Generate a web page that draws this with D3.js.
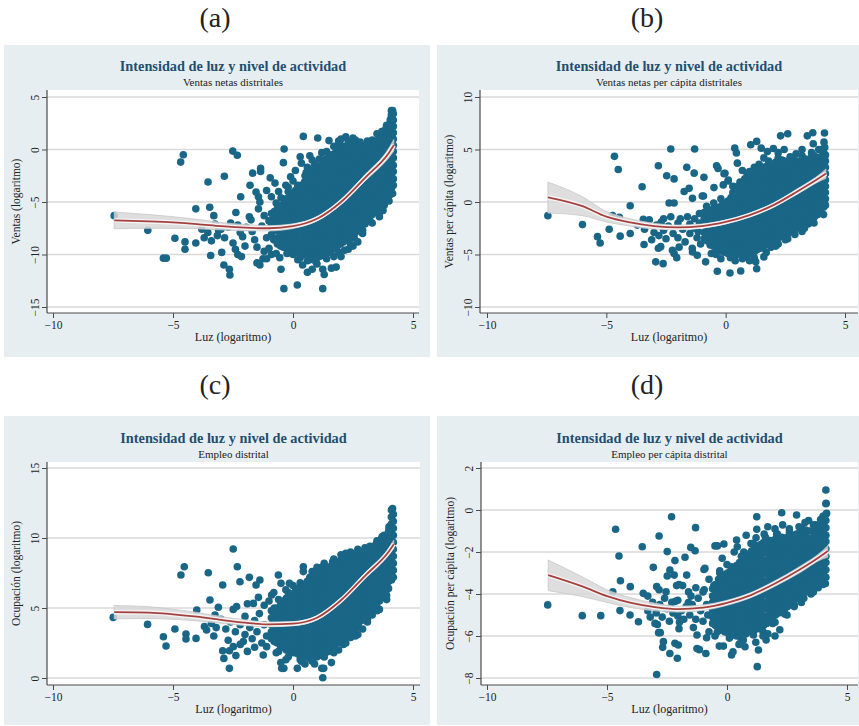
<!DOCTYPE html>
<html>
<head>
<meta charset="utf-8">
<script src="https://cdn.jsdelivr.net/npm/d3@7/dist/d3.min.js"></script>
<style>
  body { margin: 0; background: #fff; }
  svg { display: block; font-family: "Liberation Serif", "DejaVu Serif", serif; }
</style>
</head>
<body>
<div id="grafico"></div>
<script>
// x común de las curvas ajustadas (luz, logaritmo)
const curvaX = [-7.45, -6, -5, -4, -3, -2, -1, 0, 1, 2, 3, 4, 4.2];

// (a) Ventas netas distritales
const ajusteA = [-6.75, -6.85, -6.95, -7.1, -7.3, -7.45, -7.5, -7.3, -6.6, -5.0, -2.7, -0.3, 0.4];
const infA = [-7.55, -7.5, -7.5, -7.55, -7.65, -7.75, -7.75, -7.52, -6.8, -5.22, -3.0, -0.75, -0.15];
const supA = [-5.95, -6.2, -6.4, -6.65, -6.95, -7.15, -7.25, -7.08, -6.4, -4.78, -2.4, 0.15, 0.95];
const puntosA = [
  [-7.45,-6.3],[-6.05,-7.7],[-5.4,-10.35],[-5.28,-10.35],[-4.92,-8.45],[-4.5,-8.8],[-4.5,-9.5],[-4.05,-8.9],
  [-4.05,-5.65],[-3.47,-5.5],[-3.3,-6.3],[-4.57,-0.5],[-4.68,-1.2],[-3.54,-3.1],[-2.86,-2.55],[-2.51,-0.15],
  [-2.32,-0.55],[-2.18,-4.5],[-1.79,-3.4],[-1.68,-2.25],[-1.35,-1.8],[-1.35,-2.1],[-1.54,-4.05],[-1.44,-4.5],
  [-1.38,-5.0],[-1.44,-5.65],[-2.38,-6.0],[-1.82,-6.4],[-3.8,-7.6],[-3.7,-8.4],[-3.55,-7.9],[-3.4,-8.7],
  [-3.43,-10.1],[-3.25,-7.1],[-3.15,-8.2],[-3.0,-7.6],[-2.97,-9.8],[-2.88,-11.0],[-2.65,-11.4],[-2.63,-11.95],
  [-2.85,-8.4],[-2.6,-7.0],[-2.5,-8.9],[-2.4,-9.5],[-2.3,-10.0],[-2.15,-10.2],[-2.1,-8.3],[-2.0,-9.2],
  [-1.95,-7.4],[-1.75,-6.7],[-1.7,-7.8],[-1.6,-8.6],[-1.5,-9.3],[-1.5,-10.8],[-1.38,-11.0],[-1.25,-10.4],
  [-1.2,-9.7],[-1.1,-8.4],[-1.1,-10.4],[-1.0,-9.4],[-0.9,-10.0],[-0.7,-9.9],[-0.55,-10.3],[-0.5,-11.4],
  [-0.38,-13.25],[0.18,-12.9],[1.24,-13.25],[0.6,-11.7],[0.8,-11.4],[1.24,-11.4],[1.3,-11.9],[1.6,-11.3],
  [1.8,-11.2],[0.4,-11.0],[0.2,-10.5],[1.0,-10.9],[2.0,-10.2],[2.3,-9.5],[2.7,-8.8],[2.7,-7.4],
  [3.0,-7.1],[3.45,-6.0],[3.7,-5.5],[3.6,-6.1],[3.2,-6.8],[2.5,-9.2],[-3.1,-7.7],[-2.7,-7.4],
  [-2.3,-7.2],[-2.2,-7.9],[-1.3,-7.3],[-1.2,-6.3],[-0.37,0.05],[-0.4,-1.25],[0.43,1.25],[1.03,1.1],
  [1.5,0.85],[0.3,-0.7],[0.35,-1.3],[0.55,-2.2],[0.1,-2.0],[-0.1,-2.6],[-0.3,-3.4],[-0.6,-4.0],
  [-0.9,-4.5],[-0.75,-3.2],[-0.2,-4.0],[0.7,-0.6],[0.9,-1.4],[1.2,-0.3],[1.9,0.8],[2.0,1.0],
  [2.3,0.8],[2.5,1.1],[2.6,0.9],[2.2,1.2],[3.1,0.8],[3.5,1.5],[3.7,1.7],[3.55,0.9],
  [3.9,2.3],[4.05,2.8],[4.1,3.3],[4.15,3.7],[-1.1,-3.9],[-0.95,-2.7],[3.8,-5.3],[4.0,-4.4],
  [3.95,-3.6],[3.3,-6.2],[2.9,-7.7],[2.55,-8.4],[2.15,-9.6],[1.7,-10.2],[0.95,-10.7],[0.6,-10.6],
  [0.0,-10.0],[-0.25,-9.9],[0.2,-3.4],[0.5,-2.5],[0.8,-1.0],[1.1,-0.9],[1.4,-0.2],[0.6,-1.7],
  [0.0,-3.0],[-0.5,-4.6],[-0.2,-3.6],[0.3,-10.3],[0.7,-10.5],[1.4,-10.4],[1.9,-9.8],[2.4,-9.0],
  [2.9,-8.0],[3.3,-7.0],[3.6,-6.4],[4.0,-4.9],[4.15,-4.2],[3.75,-5.8],[3.5,-5.6],[-0.7,-5.1],
  [-1.0,-6.8],[-0.8,-8.6],[2.8,0.7],[3.3,0.9],[1.7,0.3]
];
// nube densa: [luz, [valores...]]
const nubeA = [
  [-0.9, [-8.1,-7.3,-6.8,-6.1]],
  [-0.78, [-8.6,-7.7,-7.1,-6.4,-5.9]],
  [-0.65, [-9.0,-8.4,-7.7,-7.0,-6.4,-5.6]],
  [-0.52, [-9.2,-8.7,-8.0,-7.4,-6.7,-6.1,-5.4]],
  [-0.4, [-9.3,-8.6,-7.9,-7.3,-6.5,-6.0,-5.2]],
  [-0.28, [-9.4,-8.9,-8.2,-7.6,-6.9,-6.3,-5.6,-5.0,-4.7]],
  [-0.15, [-9.5,-8.8,-8.1,-7.5,-6.9,-6.2,-5.5,-4.9,-4.4]],
  [-0.02, [-9.6,-9.1,-8.5,-7.8,-7.2,-6.5,-5.9,-5.2,-4.6,-4.2]],
  [0.1, [-9.7,-9.0,-8.4,-7.7,-7.0,-6.4,-5.8,-5.1,-4.5,-3.9]],
  [0.22, [-9.8,-9.3,-8.7,-8.0,-7.4,-6.7,-6.1,-5.4,-4.8,-4.2,-3.7]],
  [0.35, [-9.9,-9.2,-8.6,-7.9,-7.3,-6.6,-6.0,-5.3,-4.6,-4.0,-3.4]],
  [0.48, [-10.0,-9.5,-8.9,-8.2,-7.6,-6.9,-6.3,-5.6,-5.0,-4.3,-3.7,-3.1]],
  [0.6, [-10.1,-9.4,-8.8,-8.1,-7.4,-6.8,-6.2,-5.5,-4.9,-4.2,-3.6,-2.9]],
  [0.72, [-10.2,-9.7,-9.1,-8.4,-7.8,-7.1,-6.5,-5.8,-5.2,-4.5,-3.9,-3.3,-2.7,-2.2]],
  [0.85, [-10.3,-9.6,-8.9,-8.3,-7.6,-7.0,-6.3,-5.7,-5.0,-4.4,-3.7,-3.1,-2.4,-1.9]],
  [0.98, [-10.3,-9.8,-9.2,-8.5,-7.9,-7.2,-6.6,-5.9,-5.3,-4.6,-4.0,-3.4,-2.7,-2.1,-1.8]],
  [1.1, [-10.2,-9.5,-8.9,-8.2,-7.6,-6.9,-6.3,-5.6,-5.0,-4.3,-3.7,-3.0,-2.4,-1.6]],
  [1.22, [-10.1,-9.6,-9.0,-8.3,-7.7,-7.0,-6.4,-5.7,-5.1,-4.4,-3.8,-3.2,-2.5,-1.9,-1.3]],
  [1.35, [-10.0,-9.3,-8.7,-8.0,-7.4,-6.7,-6.1,-5.4,-4.8,-4.1,-3.5,-2.8,-2.2,-1.5,-0.9]],
  [1.48, [-9.8,-9.3,-8.6,-8.0,-7.3,-6.7,-6.0,-5.4,-4.7,-4.1,-3.4,-2.8,-2.1,-1.5,-0.8]],
  [1.6, [-9.6,-9.0,-8.3,-7.7,-7.0,-6.4,-5.7,-5.1,-4.4,-3.8,-3.1,-2.5,-1.8,-1.2,-0.5]],
  [1.72, [-9.4,-8.9,-8.2,-7.6,-6.9,-6.3,-5.6,-5.0,-4.3,-3.7,-3.0,-2.4,-1.7,-1.1,-0.4]],
  [1.85, [-9.2,-8.6,-7.9,-7.3,-6.6,-6.0,-5.3,-4.7,-4.0,-3.4,-2.7,-2.1,-1.4,-0.8,-0.1]],
  [1.98, [-9.0,-8.5,-7.8,-7.2,-6.5,-5.9,-5.2,-4.6,-3.9,-3.3,-2.6,-2.0,-1.3,-0.7,-0.1,0.4]],
  [2.1, [-8.8,-8.2,-7.5,-6.9,-6.2,-5.6,-4.9,-4.3,-3.6,-3.0,-2.3,-1.7,-1.0,-0.4,0.3]],
  [2.22, [-8.6,-8.1,-7.4,-6.8,-6.1,-5.5,-4.8,-4.2,-3.5,-2.9,-2.2,-1.6,-0.9,-0.3,0.3]],
  [2.35, [-8.4,-7.8,-7.1,-6.5,-5.8,-5.2,-4.5,-3.9,-3.2,-2.6,-1.9,-1.3,-0.6,0.0,0.6]],
  [2.48, [-8.1,-7.6,-6.9,-6.3,-5.6,-5.0,-4.3,-3.7,-3.0,-2.4,-1.7,-1.1,-0.5,0.1,0.5]],
  [2.6, [-7.9,-7.3,-6.6,-6.0,-5.3,-4.7,-4.0,-3.4,-2.7,-2.1,-1.4,-0.8,-0.2,0.4]],
  [2.72, [-7.6,-7.0,-6.3,-5.7,-5.0,-4.4,-3.7,-3.1,-2.4,-1.8,-1.1,-0.5,0.1]],
  [2.85, [-7.3,-6.7,-6.0,-5.4,-4.7,-4.1,-3.4,-2.8,-2.1,-1.5,-0.8,-0.2,0.3]],
  [2.98, [-7.0,-6.3,-5.7,-5.0,-4.4,-3.7,-3.1,-2.4,-1.8,-1.1,-0.5,0.0]],
  [3.1, [-6.6,-6.0,-5.3,-4.7,-4.0,-3.4,-2.7,-2.1,-1.4,-0.8,-0.2,0.4]],
  [3.22, [-6.3,-5.7,-5.0,-4.4,-3.7,-3.1,-2.4,-1.8,-1.1,-0.5,0.1]],
  [3.35, [-6.0,-5.4,-4.7,-4.1,-3.4,-2.8,-2.1,-1.5,-0.8,-0.2,0.5]],
  [3.48, [-5.8,-5.1,-4.5,-3.8,-3.2,-2.5,-1.9,-1.2,-0.6,0.1,0.7]],
  [3.6, [-5.5,-4.8,-4.2,-3.5,-2.9,-2.2,-1.6,-0.9,-0.3,0.3,0.9]],
  [3.72, [-5.2,-4.6,-3.9,-3.3,-2.6,-2.0,-1.3,-0.7,0.0,0.6,1.2]],
  [3.85, [-4.9,-4.3,-3.6,-3.0,-2.3,-1.7,-1.0,-0.4,0.2,0.8,1.4,1.9]],
  [3.98, [-4.4,-3.9,-3.3,-2.6,-2.0,-1.4,-0.7,-0.1,0.5,1.1,1.7,2.3]],
  [4.1, [-3.7,-3.1,-2.4,-1.8,-1.1,-0.5,0.1,0.7,1.3,1.9,2.5,3.1,3.7]],
  [4.18, [-3.4,-2.8,-2.1,-1.5,-0.8,-0.2,0.4,1.0,1.6,2.2,2.8,3.4]]
];

// (b) Ventas netas per cápita distritales
const ajusteB = [0.45, -0.4, -1.4, -1.95, -2.3, -2.42, -2.3, -1.9, -1.25, -0.3, 1.0, 2.4, 2.7];
const infB = [-1.05, -1.3, -1.9, -2.3, -2.57, -2.64, -2.5, -2.08, -1.43, -0.5, 0.75, 2.05, 2.25];
const supB = [1.9, 0.5, -0.9, -1.6, -2.03, -2.2, -2.1, -1.72, -1.07, -0.1, 1.25, 2.75, 3.15];
const puntosB = [
  [-7.45,-1.3],[-6.0,-2.15],[-5.37,-3.3],[-5.26,-3.9],[-4.88,-2.6],[-4.74,-1.3],[-4.42,-3.25],[-4.45,-1.45],
  [-4.66,4.35],[-4.5,3.1],[-4.0,-0.35],[-4.0,-3.0],[-3.5,1.45],[-3.45,-1.65],[-3.42,-4.05],[-2.82,3.45],
  [-2.47,2.5],[-2.3,5.05],[-2.16,2.2],[-2.37,-0.1],[-2.16,-0.1],[-1.63,3.3],[-1.53,1.3],[-1.74,1.0],
  [-1.39,0.35],[-1.3,5.05],[-1.32,2.75],[-0.91,2.35],[-0.98,0.57],[-0.49,1.37],[-0.38,3.45],[-0.32,3.2],
  [-0.1,1.63],[0.11,2.1],[-0.07,2.7],[-2.93,-5.7],[-2.62,-5.87],[-2.82,-4.4],[-2.72,-4.25],[-2.23,-4.6],
  [-2.16,-4.9],[-2.05,-5.3],[-1.39,-4.75],[-1.19,-5.07],[-0.84,-5.7],[-0.35,-6.6],[0.18,-6.76],[0.63,-6.57],
  [1.3,-6.35],[1.26,-5.7],[1.6,-5.23],[0.84,-5.23],[2.3,-3.06],[2.79,-2.04],[3.07,-1.18],[3.46,-2.1],
  [3.77,-1.24],[4.04,-0.4],[-3.4,-2.6],[-3.2,-1.7],[-3.0,-2.9],[-2.9,-2.2],[-2.8,-3.2],[-2.6,-1.6],
  [-2.6,-2.7],[-2.5,-3.5],[-2.4,-2.3],[-2.3,-1.4],[-2.2,-3.0],[-2.0,-2.0],[-2.0,-3.4],[-1.9,-1.6],
  [-1.8,-2.6],[-1.7,-3.8],[-1.6,-1.4],[-1.5,-2.1],[-1.5,-3.0],[-1.4,-4.4],[-1.3,-1.6],[-1.3,-2.5],
  [-1.2,-3.4],[-1.1,-1.1],[-1.1,-2.0],[-1.05,-4.0],[-1.15,-2.8],[-3.7,-2.2],[-3.1,-3.6],[-2.7,-1.9],
  [-1.95,-4.3],[2.3,6.3],[2.6,6.5],[3.42,6.3],[3.65,6.6],[4.14,6.57],[4.12,5.7],[3.67,5.55],
  [1.3,5.77],[1.05,5.45],[1.49,5.13],[0.45,4.66],[0.38,5.13],[0.49,3.7],[-0.03,2.74],[0.1,2.0],
  [-0.93,0.57],[1.75,4.8],[2.0,5.1],[2.2,4.7],[2.45,5.0],[2.95,4.6],[3.2,5.0],[3.9,5.0],
  [4.15,4.3],[4.15,5.2],[0.7,3.0],[0.9,2.7],[1.2,3.3],[1.6,4.2],[0.3,1.5],[0.6,1.9],
  [-0.6,-4.9],[-0.2,-5.4],[0.4,-5.6],[1.0,-5.6],[1.9,-4.3],[2.2,-4.0],[2.6,-3.5],[3.2,-2.8],
  [0.3,0.9],[0.5,1.5],[0.8,2.2],[1.0,2.9],[1.4,3.6],[1.8,3.9],[2.2,4.2],[2.7,4.3],
  [3.2,4.4],[3.6,4.7],[4.0,5.0],[-0.5,-0.1],[-0.2,0.3],[-0.8,-0.4],[-0.4,-5.0],[0.2,-5.3],
  [0.7,-5.4],[1.2,-5.3],[1.7,-4.8],[2.1,-4.2],[2.5,-3.6],[2.9,-3.1],[3.3,-2.5],[3.7,-2.0],
  [4.1,-1.2]
];
const nubeB = [
  [-0.9, [-3.5,-2.9,-2.2,-1.6,-1.0]],
  [-0.78, [-3.7,-3.2,-2.5,-1.9,-1.3,-0.9]],
  [-0.65, [-4.1,-3.4,-2.8,-2.1,-1.5,-0.8]],
  [-0.52, [-4.2,-3.7,-3.1,-2.4,-1.8,-1.1,-0.7]],
  [-0.4, [-4.4,-3.8,-3.1,-2.5,-1.8,-1.2,-0.6]],
  [-0.28, [-4.5,-4.0,-3.4,-2.7,-2.1,-1.4,-0.9,-0.5]],
  [-0.15, [-4.7,-4.1,-3.4,-2.8,-2.1,-1.5,-0.8,-0.3]],
  [-0.02, [-4.8,-4.4,-3.7,-3.1,-2.4,-1.8,-1.1,-0.6,-0.1]],
  [0.1, [-4.9,-4.3,-3.6,-3.0,-2.3,-1.7,-1.0,-0.4,0.1]],
  [0.22, [-4.9,-4.6,-3.9,-3.3,-2.6,-2.0,-1.3,-0.7,-0.1,0.4]],
  [0.35, [-4.9,-4.3,-3.6,-3.0,-2.3,-1.7,-1.0,-0.4,0.2,0.7]],
  [0.48, [-5.0,-4.6,-4.0,-3.3,-2.7,-2.0,-1.4,-0.7,-0.1,0.5,0.9]],
  [0.6, [-5.0,-4.4,-3.7,-3.1,-2.4,-1.8,-1.1,-0.5,0.1,0.7,1.2]],
  [0.72, [-5.0,-4.6,-4.0,-3.3,-2.7,-2.0,-1.4,-0.8,-0.2,0.4,1.0,1.5]],
  [0.85, [-4.9,-4.3,-3.6,-3.0,-2.3,-1.7,-1.0,-0.4,0.2,0.8,1.4,1.9]],
  [0.98, [-4.9,-4.5,-3.9,-3.2,-2.6,-1.9,-1.3,-0.7,-0.1,0.5,1.1,1.7,2.2]],
  [1.1, [-4.8,-4.2,-3.5,-2.9,-2.2,-1.6,-0.9,-0.3,0.3,0.9,1.5,2.1,2.6]],
  [1.22, [-4.7,-4.2,-3.6,-2.9,-2.3,-1.6,-1.0,-0.3,0.3,0.9,1.5,2.1,2.7]],
  [1.35, [-4.5,-3.9,-3.2,-2.6,-1.9,-1.3,-0.6,0.0,0.6,1.2,1.8,2.4,3.0]],
  [1.48, [-4.4,-3.9,-3.3,-2.6,-2.0,-1.3,-0.7,0.0,0.6,1.2,1.8,2.4,3.0,3.3]],
  [1.6, [-4.2,-3.6,-2.9,-2.3,-1.6,-1.0,-0.3,0.3,0.9,1.5,2.1,2.7,3.3]],
  [1.72, [-4.0,-3.5,-2.9,-2.2,-1.6,-0.9,-0.3,0.4,1.0,1.6,2.2,2.8,3.4]],
  [1.85, [-3.8,-3.2,-2.5,-1.9,-1.2,-0.6,0.1,0.7,1.3,1.9,2.5,3.1,3.6]],
  [1.98, [-3.7,-3.2,-2.6,-1.9,-1.3,-0.6,0.0,0.6,1.2,1.8,2.4,3.0,3.6]],
  [2.1, [-3.5,-2.9,-2.2,-1.6,-0.9,-0.3,0.3,0.9,1.5,2.1,2.7,3.3,3.8]],
  [2.22, [-3.4,-2.9,-2.3,-1.6,-1.0,-0.3,0.3,0.9,1.5,2.1,2.7,3.3,3.9]],
  [2.35, [-3.2,-2.6,-1.9,-1.3,-0.6,0.0,0.6,1.2,1.8,2.4,3.0,3.5,4.0]],
  [2.48, [-3.1,-2.6,-2.0,-1.3,-0.7,-0.1,0.5,1.1,1.7,2.3,2.9,3.5,3.9]],
  [2.6, [-3.0,-2.4,-1.7,-1.1,-0.4,0.2,0.8,1.4,2.0,2.6,3.2,3.8]],
  [2.72, [-2.8,-2.3,-1.7,-1.0,-0.4,0.2,0.8,1.4,2.0,2.6,3.2,3.7]],
  [2.85, [-2.6,-2.0,-1.3,-0.7,-0.1,0.5,1.1,1.7,2.3,2.9,3.5,4.0]],
  [2.98, [-2.5,-2.0,-1.4,-0.8,-0.2,0.4,1.0,1.6,2.2,2.8,3.4,3.9]],
  [3.1, [-2.3,-1.7,-1.0,-0.4,0.2,0.8,1.4,2.0,2.6,3.2,3.8]],
  [3.22, [-2.1,-1.7,-1.1,-0.5,0.1,0.7,1.3,1.9,2.5,3.1,3.7,4.1]],
  [3.35, [-2.0,-1.4,-0.7,-0.1,0.5,1.1,1.7,2.3,2.9,3.5,4.1]],
  [3.48, [-1.8,-1.3,-0.7,-0.1,0.5,1.1,1.7,2.3,2.9,3.5,4.0]],
  [3.6, [-1.6,-1.0,-0.3,0.3,0.9,1.5,2.1,2.7,3.3,3.9,4.3]],
  [3.72, [-1.4,-0.9,-0.3,0.3,0.9,1.5,2.1,2.7,3.3,3.9,4.4]],
  [3.85, [-1.2,-0.6,0.0,0.6,1.2,1.8,2.4,3.0,3.6,4.2]],
  [3.98, [-1.0,-0.5,0.1,0.7,1.3,1.9,2.5,3.1,3.7,4.3]],
  [4.1, [-0.5,0.1,0.7,1.3,1.9,2.5,3.1,3.7,4.3,4.7]],
  [4.18, [-0.3,0.3,0.9,1.5,2.1,2.7,3.3,3.9,4.5]]
];

// (c) Empleo distrital
const ajusteC = [4.7, 4.67, 4.55, 4.38, 4.15, 3.95, 3.83, 3.88, 4.3, 5.55, 7.3, 9.05, 9.55];
const infC = [4.22, 4.25, 4.19, 4.08, 3.91, 3.75, 3.66, 3.73, 4.15, 5.39, 7.1, 8.8, 9.25];
const supC = [5.18, 5.09, 4.91, 4.68, 4.39, 4.15, 4.0, 4.03, 4.45, 5.71, 7.5, 9.3, 9.85];
const puntosC = [
  [-7.49,4.33],[-6.06,3.83],[-5.4,2.95],[-5.29,2.29],[-4.92,3.5],[-4.67,7.36],[-4.53,7.95],[-4.46,3.14],
  [-4.46,2.79],[-4.04,2.83],[-4.01,4.86],[-3.53,7.52],[-3.46,5.57],[-3.11,5.05],[-3.25,4.5],[-3.69,3.67],
  [-3.6,3.43],[-3.3,3.0],[-3.2,3.6],[-2.93,6.64],[-2.93,1.95],[-2.88,1.4],[-2.65,0.69],[-2.65,1.95],
  [-2.49,2.24],[-2.38,1.6],[-2.32,7.95],[-2.21,6.88],[-2.49,4.9],[-2.35,5.1],[-2.07,2.6],[-1.82,7.19],
  [-1.54,6.64],[-1.38,7.0],[-1.44,5.76],[-1.65,5.33],[-1.24,1.64],[-1.1,2.24],[-0.89,5.93],[-0.61,7.36],
  [-0.5,6.76],[-0.38,0.69],[-0.51,1.1],[-0.15,6.76],[0.18,0.69],[0.36,1.17],[0.43,7.95],[0.43,7.6],
  [1.2,0.69],[1.28,0.69],[1.24,0.02],[1.6,1.1],[1.65,8.3],[-2.49,9.21],[2.28,8.86],[2.79,8.67],
  [-0.47,0.69],[-3.0,4.2],[-2.8,3.5],[-2.6,4.0],[-2.4,3.3],[-2.2,3.8],[-2.0,4.4],[-2.0,3.1],
  [-1.8,3.6],[-1.7,2.8],[-1.6,4.1],[-1.5,3.3],[-1.4,4.6],[-1.3,2.5],[-1.2,3.8],[-1.2,5.2],
  [-1.1,3.0],[-2.2,2.4],[-1.9,1.9],[-1.6,2.2],[-3.4,3.9],[-2.7,2.7],[-1.9,5.3],[-1.0,5.5],
  [-0.8,6.1],[-0.3,6.3],[0.0,6.6],[0.7,7.2],[-0.7,1.8],[-0.3,1.3],[0.5,1.0],[0.9,1.0],
  [1.9,2.0],[2.1,2.4],[2.4,2.9],[2.6,3.0],[2.9,3.5],[3.1,4.0],[3.3,4.5],[3.6,4.9],
  [3.9,5.6],[1.0,7.9],[1.3,8.2],[2.0,8.8],[2.4,9.0],[3.0,9.3],[3.5,9.8],[3.8,10.2],
  [4.0,10.8],[4.15,12.1],[-0.6,5.6],[-0.2,6.1],[0.3,6.8],[0.8,7.6],[1.2,7.9],[1.7,8.5],
  [2.2,8.9],[2.7,9.2],[3.2,9.4],[3.7,10.0],[4.0,10.6],[-0.6,1.9],[-0.2,1.5],[0.3,1.3],
  [0.8,1.2],[1.3,1.5],[1.7,1.8],[2.2,2.5],[2.7,3.1],[3.1,4.2],[3.5,4.8],[3.9,5.9]
];
const nubeC = [
  [-0.9, [2.8,3.3,3.8,4.3,4.8]],
  [-0.78, [2.6,3.1,3.6,4.1,4.6,5.0]],
  [-0.65, [2.5,3.0,3.5,4.0,4.5,5.0]],
  [-0.52, [2.3,2.8,3.3,3.8,4.3,4.8,5.2]],
  [-0.4, [2.2,2.7,3.2,3.7,4.2,4.7,5.2,5.5]],
  [-0.28, [2.0,2.5,3.0,3.5,4.0,4.5,5.0,5.5,5.7]],
  [-0.15, [1.9,2.4,2.9,3.4,3.9,4.4,4.9,5.4,5.9]],
  [-0.02, [1.8,2.2,2.7,3.2,3.7,4.2,4.7,5.2,5.7,6.0]],
  [0.1, [1.8,2.3,2.8,3.3,3.8,4.3,4.8,5.3,5.8,6.2]],
  [0.22, [1.7,2.0,2.5,3.0,3.5,4.0,4.5,5.0,5.5,6.0,6.4]],
  [0.35, [1.6,2.1,2.6,3.1,3.6,4.1,4.6,5.1,5.6,6.1,6.5]],
  [0.48, [1.5,1.8,2.3,2.8,3.3,3.8,4.3,4.8,5.3,5.8,6.3,6.7]],
  [0.6, [1.5,2.0,2.5,3.0,3.5,4.0,4.5,5.0,5.5,6.0,6.5,6.9]],
  [0.72, [1.4,1.8,2.3,2.8,3.3,3.8,4.3,4.8,5.3,5.8,6.3,6.8,7.1]],
  [0.85, [1.5,2.0,2.5,3.0,3.5,4.0,4.5,5.0,5.5,6.0,6.5,7.0,7.3]],
  [0.98, [1.5,1.8,2.3,2.8,3.3,3.8,4.3,4.8,5.3,5.8,6.3,6.8,7.3]],
  [1.1, [1.6,2.1,2.6,3.1,3.6,4.1,4.6,5.1,5.6,6.1,6.6,7.1,7.5]],
  [1.22, [1.7,2.0,2.5,3.0,3.5,4.0,4.5,5.0,5.5,6.0,6.5,7.0,7.5,7.7]],
  [1.35, [1.8,2.3,2.8,3.3,3.8,4.3,4.8,5.3,5.8,6.3,6.8,7.3,7.8]],
  [1.48, [1.9,2.2,2.7,3.2,3.7,4.2,4.7,5.2,5.7,6.2,6.7,7.2,7.7,7.9]],
  [1.6, [2.1,2.6,3.1,3.6,4.1,4.6,5.1,5.6,6.1,6.6,7.1,7.6,8.0]],
  [1.72, [2.3,2.8,3.3,3.8,4.3,4.8,5.3,5.8,6.3,6.8,7.3,7.8,8.2]],
  [1.85, [2.5,3.0,3.5,4.0,4.5,5.0,5.5,6.0,6.5,7.0,7.5,8.0,8.3]],
  [1.98, [2.7,3.2,3.7,4.2,4.7,5.2,5.7,6.2,6.7,7.2,7.7,8.2,8.4]],
  [2.1, [2.8,3.3,3.8,4.3,4.8,5.3,5.8,6.3,6.8,7.3,7.8,8.3,8.5]],
  [2.22, [3.0,3.5,4.0,4.5,5.0,5.5,6.0,6.5,7.0,7.5,8.0,8.5,8.7]],
  [2.35, [3.2,3.7,4.2,4.7,5.2,5.7,6.2,6.7,7.2,7.7,8.2,8.7]],
  [2.48, [3.4,3.9,4.4,4.9,5.4,5.9,6.4,6.9,7.4,7.9,8.4,8.8]],
  [2.6, [3.5,4.0,4.5,5.0,5.5,6.0,6.5,7.0,7.5,8.0,8.5,8.8]],
  [2.72, [3.8,4.3,4.8,5.3,5.8,6.3,6.8,7.3,7.8,8.3,8.8,9.0]],
  [2.85, [4.1,4.6,5.1,5.6,6.1,6.6,7.1,7.6,8.1,8.6,9.0]],
  [2.98, [4.3,4.8,5.3,5.8,6.3,6.8,7.3,7.8,8.3,8.8,9.1]],
  [3.1, [4.6,5.1,5.6,6.1,6.6,7.1,7.6,8.1,8.6,9.1]],
  [3.22, [4.8,5.3,5.8,6.3,6.8,7.3,7.8,8.3,8.8,9.2]],
  [3.35, [5.0,5.5,6.0,6.5,7.0,7.5,8.0,8.5,9.0,9.4]],
  [3.48, [5.2,5.7,6.2,6.7,7.2,7.7,8.2,8.7,9.2,9.6]],
  [3.6, [5.5,6.0,6.5,7.0,7.5,8.0,8.5,9.0,9.5,9.8]],
  [3.72, [5.8,6.3,6.8,7.3,7.8,8.3,8.8,9.3,9.8,10.1]],
  [3.85, [6.1,6.6,7.1,7.6,8.1,8.6,9.1,9.6,10.0]],
  [3.98, [6.4,6.9,7.4,7.9,8.4,8.9,9.4,9.9,10.4]],
  [4.1, [7.0,7.5,8.0,8.5,9.0,9.5,10.0,10.5,11.0,11.5,12.0]],
  [4.18, [7.2,7.7,8.2,8.7,9.2,9.7,10.2,10.7,11.2,11.7]]
];

// (d) Empleo per cápita distrital
const ajusteD = [-3.1, -3.65, -4.1, -4.42, -4.62, -4.72, -4.65, -4.42, -4.05, -3.5, -2.86, -2.12, -1.95];
const infD = [-3.84, -4.13, -4.4, -4.65, -4.8, -4.86, -4.78, -4.54, -4.17, -3.63, -3.01, -2.32, -2.25];
const supD = [-2.38, -3.2, -3.8, -4.18, -4.44, -4.58, -4.52, -4.3, -3.93, -3.37, -2.71, -1.92, -1.7];
const puntosD = [
  [-7.47,-4.52],[-6.03,-5.03],[-5.26,-5.03],[-4.76,-3.89],[-4.44,-3.37],[-4.03,-3.65],[-4.46,-4.79],[-4.04,-5.0],
  [-3.69,-5.32],[-3.49,-3.97],[-3.3,-4.1],[-3.07,-2.73],[-2.93,-3.65],[-2.83,-3.8],[-3.0,-5.4],[-2.9,-5.45],
  [-2.85,-5.84],[-2.78,-5.84],[-2.65,-6.27],[-2.68,-6.54],[-2.38,-6.83],[-2.07,-7.06],[-2.03,-6.43],[-2.17,-6.35],
  [-2.93,-7.83],[-2.54,-3.89],[-2.49,-3.14],[-2.38,-2.86],[-2.2,-3.1],[-2.1,-3.6],[-2.0,-3.55],[-1.85,-3.6],
  [-2.15,-4.35],[-2.05,-4.3],[-2.25,-4.9],[-2.05,-5.05],[-1.98,-5.35],[-2.0,-5.65],[-1.68,-3.1],[-1.61,-4.41],
  [-1.5,-4.1],[-1.4,-5.6],[-1.25,-5.95],[-1.25,-6.6],[-1.15,-6.65],[-0.88,-6.83],[-0.85,-6.08],[-0.96,-2.83],
  [-0.55,-3.6],[-0.32,-6.48],[-0.15,-6.48],[0.19,-6.9],[0.25,-6.75],[0.68,-6.19],[0.75,-6.51],[1.26,-7.46],
  [1.31,-6.67],[1.63,-6.19],[1.2,-6.3],[1.5,-6.0],[0.5,-6.4],[-0.5,-6.0],[-0.75,-5.8],[-3.3,-4.8],
  [-3.2,-5.1],[-3.1,-4.4],[-2.95,-4.9],[-2.8,-4.5],[-2.7,-5.1],[-2.6,-4.2],[-2.5,-4.7],[-2.4,-5.3],
  [-2.3,-4.4],[-1.9,-4.8],[-1.8,-5.2],[-1.7,-4.6],[-1.55,-5.0],[-1.45,-4.5],[-1.3,-5.2],[-1.2,-4.2],
  [-1.1,-4.8],[-1.0,-5.3],[-0.95,-3.8],[-0.85,-4.5],[-0.8,-5.0],[-1.3,-3.7],[-1.6,-3.9],[-0.75,-3.3],
  [-1.0,-3.9],[4.13,0.32],[4.15,-0.16],[1.24,-0.32],[2.28,-0.13],[2.9,-0.24],[3.25,-0.6],[-4.64,-0.92],
  [-4.5,-2.19],[-3.53,-1.75],[-2.83,-1.24],[-2.31,-0.32],[-2.49,-1.98],[-2.17,-2.41],[-1.75,-2.25],[-1.31,-0.84],
  [-1.51,-1.78],[-1.33,-1.94],[-0.5,-1.71],[-0.4,-1.71],[-0.13,-1.62],[-0.92,-2.78],[0.4,-1.43],[0.43,-1.75],
  [0.3,-2.0],[1.21,-1.32],[1.24,-0.92],[2.07,-1.16],[2.32,-0.71],[2.0,-0.9],[1.7,-0.8],[1.55,-1.15],
  [2.6,-0.9],[3.0,-0.8],[3.4,-0.5],[3.7,-0.7],[4.0,-0.3],[0.8,-1.2],[1.0,-1.6],[-0.2,-2.3],
  [0.0,-2.6],[-0.3,-2.9],[0.7,-2.0],[1.9,-5.4],[2.2,-5.7],[2.5,-5.0],[2.8,-4.6],[3.1,-4.4],
  [3.5,-4.0],[3.8,-3.7],[4.1,-3.5],[2.0,-6.0],[1.7,-5.9],[-0.3,-3.0],[0.2,-2.7],[0.6,-2.2],
  [1.1,-1.6],[1.6,-1.3],[2.1,-1.15],[2.6,-1.05],[3.1,-0.85],[3.6,-0.7],[3.9,-0.45],[-0.4,-5.8],
  [0.1,-6.1],[0.6,-6.2],[1.1,-5.95],[1.5,-5.8],[2.0,-5.35],[2.4,-4.95],[2.8,-4.5],[3.2,-4.2],
  [3.6,-3.9],[4.0,-3.55]
];
const nubeD = [
  [-0.6, [-5.4,-5.1,-4.75,-4.4,-4.1,-3.75]],
  [-0.48, [-5.5,-5.2,-4.9,-4.55,-4.2,-3.9,-3.55]],
  [-0.35, [-5.6,-5.25,-4.9,-4.6,-4.25,-3.9,-3.6,-3.3]],
  [-0.22, [-5.7,-5.4,-5.05,-4.75,-4.4,-4.05,-3.75,-3.4,-3.2]],
  [-0.1, [-5.8,-5.45,-5.1,-4.8,-4.45,-4.1,-3.8,-3.45,-3.1]],
  [0.02, [-5.85,-5.6,-5.3,-4.95,-4.65,-4.3,-3.95,-3.65,-3.3,-3.0]],
  [0.15, [-5.9,-5.55,-5.2,-4.9,-4.55,-4.2,-3.9,-3.55,-3.2,-2.9]],
  [0.28, [-5.95,-5.7,-5.4,-5.05,-4.75,-4.4,-4.05,-3.75,-3.4,-3.1,-2.8]],
  [0.4, [-6.0,-5.65,-5.3,-5.0,-4.65,-4.3,-4.0,-3.65,-3.3,-3.0,-2.65]],
  [0.52, [-6.0,-5.8,-5.45,-5.15,-4.8,-4.45,-4.15,-3.8,-3.45,-3.15,-2.8,-2.5]],
  [0.65, [-5.95,-5.6,-5.25,-4.95,-4.6,-4.25,-3.95,-3.6,-3.25,-2.95,-2.6,-2.3]],
  [0.78, [-5.9,-5.75,-5.4,-5.1,-4.75,-4.4,-4.1,-3.75,-3.4,-3.1,-2.75,-2.45,-2.2]],
  [0.9, [-5.8,-5.45,-5.1,-4.8,-4.45,-4.1,-3.8,-3.45,-3.1,-2.8,-2.45,-2.1]],
  [1.02, [-5.75,-5.6,-5.25,-4.95,-4.6,-4.25,-3.95,-3.6,-3.25,-2.95,-2.6,-2.3,-1.95]],
  [1.15, [-5.7,-5.35,-5.0,-4.7,-4.35,-4.0,-3.7,-3.35,-3.0,-2.7,-2.35,-2.0,-1.8]],
  [1.28, [-5.65,-5.5,-5.15,-4.85,-4.5,-4.15,-3.85,-3.5,-3.15,-2.85,-2.5,-2.15,-1.85,-1.7]],
  [1.4, [-5.6,-5.25,-4.9,-4.6,-4.25,-3.9,-3.6,-3.25,-2.9,-2.6,-2.25,-1.9,-1.65]],
  [1.52, [-5.5,-5.35,-5.05,-4.7,-4.4,-4.05,-3.75,-3.4,-3.05,-2.75,-2.4,-2.05,-1.75,-1.55]],
  [1.65, [-5.4,-5.05,-4.7,-4.4,-4.05,-3.7,-3.4,-3.05,-2.7,-2.4,-2.05,-1.7,-1.5]],
  [1.78, [-5.25,-4.95,-4.6,-4.25,-3.95,-3.6,-3.25,-2.95,-2.6,-2.25,-1.95,-1.6,-1.45]],
  [1.9, [-5.1,-4.8,-4.45,-4.1,-3.8,-3.45,-3.1,-2.8,-2.45,-2.1,-1.8,-1.45]],
  [2.02, [-5.0,-4.7,-4.35,-4.0,-3.7,-3.35,-3.0,-2.7,-2.35,-2.0,-1.7,-1.4]],
  [2.15, [-4.9,-4.6,-4.25,-3.9,-3.6,-3.25,-2.9,-2.6,-2.25,-1.9,-1.6,-1.35]],
  [2.28, [-4.8,-4.5,-4.15,-3.8,-3.5,-3.15,-2.8,-2.5,-2.15,-1.85,-1.5,-1.3]],
  [2.4, [-4.7,-4.35,-4.0,-3.7,-3.35,-3.0,-2.7,-2.35,-2.0,-1.7,-1.35]],
  [2.52, [-4.6,-4.3,-3.95,-3.6,-3.3,-2.95,-2.6,-2.3,-1.95,-1.6,-1.3]],
  [2.65, [-4.5,-4.15,-3.8,-3.5,-3.15,-2.8,-2.5,-2.15,-1.8,-1.5,-1.25]],
  [2.78, [-4.35,-4.0,-3.65,-3.35,-3.0,-2.65,-2.35,-2.0,-1.65,-1.35,-1.2]],
  [2.9, [-4.2,-3.85,-3.5,-3.2,-2.85,-2.5,-2.2,-1.85,-1.5,-1.15]],
  [3.02, [-4.1,-3.8,-3.45,-3.1,-2.8,-2.45,-2.1,-1.8,-1.45,-1.1]],
  [3.15, [-4.0,-3.65,-3.3,-3.0,-2.65,-2.3,-2.0,-1.65,-1.3,-1.05]],
  [3.28, [-3.9,-3.55,-3.2,-2.9,-2.55,-2.2,-1.9,-1.55,-1.2,-0.95]],
  [3.4, [-3.75,-3.4,-3.05,-2.75,-2.4,-2.05,-1.75,-1.4,-1.0]],
  [3.52, [-3.7,-3.35,-3.0,-2.7,-2.35,-2.0,-1.7,-1.35,-1.0]],
  [3.65, [-3.6,-3.25,-2.9,-2.6,-2.25,-1.9,-1.6,-1.25,-0.9]],
  [3.78, [-3.5,-3.2,-2.85,-2.5,-2.2,-1.85,-1.5,-1.2,-0.85]],
  [3.9, [-3.45,-3.1,-2.75,-2.45,-2.1,-1.75,-1.45,-1.1,-0.75]],
  [4.02, [-3.3,-3.0,-2.65,-2.3,-2.0,-1.65,-1.3,-1.0,-0.65,-0.35]],
  [4.12, [-3.2,-2.85,-2.5,-2.2,-1.85,-1.5,-1.2,-0.85,-0.5,-0.2,0.3,0.95]]
];

const ticksX = [-10, -5, 0, 5];
const ticksYA = [-15, -10, -5, 0, 5];
const ticksYB = [-10, -5, 0, 5, 10];
const ticksYC = [0, 5, 10, 15];
const ticksYD = [-8, -6, -4, -2, 0, 2];

const titulo = "Intensidad de luz y nivel de actividad";
const etiquetaX = "Luz (logaritmo)";

const paneles = [
  { letra: "(a)", sub: "Ventas netas distritales", ytit: "Ventas (logaritmo)",
    puntos: puntosA, nube: nubeA, ajuste: ajusteA, inf: infA, sup: supA, ticksY: ticksYA,
    fondo: [4, 45, 426, 312], plot: [47, 90, 419, 313], xr: [53, 413], yd: [-15, 5], yr: [307, 97], letraPos: [215, 27] },
  { letra: "(b)", sub: "Ventas netas per cápita distritales", ytit: "Ventas per cápita (logaritmo)",
    puntos: puntosB, nube: nubeB, ajuste: ajusteB, inf: infB, sup: supB, ticksY: ticksYB,
    fondo: [437, 45, 423, 312], plot: [480, 90, 858, 313], xr: [487, 845], yd: [-10, 10], yr: [307, 97], letraPos: [647, 27] },
  { letra: "(c)", sub: "Empleo distrital", ytit: "Ocupación (logaritmo)",
    puntos: puntosC, nube: nubeC, ajuste: ajusteC, inf: infC, sup: supC, ticksY: ticksYC,
    fondo: [4, 416, 426, 309], plot: [47, 462, 420, 685], xr: [53, 413], yd: [0, 15], yr: [678, 468], letraPos: [215, 394] },
  { letra: "(d)", sub: "Empleo per cápita distrital", ytit: "Ocupación per cápita (logaritmo)",
    puntos: puntosD, nube: nubeD, ajuste: ajusteD, inf: infD, sup: supD, ticksY: ticksYD,
    fondo: [437, 416, 423, 309], plot: [481, 462, 858, 685], xr: [487, 847], yd: [-8, 2], yr: [678, 468], letraPos: [647, 394] }
];

const colorPunto = "#1a6687", colorTitulo = "#234e70", colorAjuste = "#a5403f";

const svg = d3.select("#grafico").append("svg")
  .attr("width", 859)
  .attr("height", 726);

paneles.forEach(dibujarPanel);

function dibujarPanel(p) {
  const [pl, pt, pr, pb] = p.plot;
  const x = d3.scaleLinear().domain([-10, 5]).range(p.xr);
  const y = d3.scaleLinear().domain(p.yd).range(p.yr);
  const g = svg.append("g");

  // letra del panel
  g.append("text")
    .attr("x", p.letraPos[0]).attr("y", p.letraPos[1])
    .attr("text-anchor", "middle")
    .attr("font-size", 28).attr("fill", "#222")
    .text(p.letra);

  g.append("rect")
    .attr("x", p.fondo[0]).attr("y", p.fondo[1])
    .attr("width", p.fondo[2]).attr("height", p.fondo[3])
    .attr("fill", "#e7eef2");

  g.append("rect")
    .attr("x", pl).attr("y", pt)
    .attr("width", pr - pl).attr("height", pb - pt)
    .attr("fill", "#fff");

  const cx = (pl + pr) / 2;
  g.append("text")
    .attr("x", cx).attr("y", pt - 19)
    .attr("text-anchor", "middle")
    .attr("font-size", 14.3).attr("font-weight", "bold")
    .attr("fill", colorTitulo)
    .text(titulo);
  g.append("text")
    .attr("x", cx).attr("y", pt - 4)
    .attr("text-anchor", "middle")
    .attr("font-size", 11).attr("fill", "#222")
    .text(p.sub);

  // rejilla horizontal
  g.append("g").selectAll("line")
    .data(p.ticksY)
    .join("line")
    .attr("x1", pl).attr("x2", pr)
    .attr("y1", (d) => y(d)).attr("y2", (d) => y(d))
    .attr("stroke", "#d9d9d9").attr("stroke-width", 1.5);

  // puntos
  const todos = p.puntos.concat(p.nube.flatMap(([lx, ys]) => ys.map((v) => [lx, v])));
  g.append("g").selectAll("circle")
    .data(todos)
    .join("circle")
    .attr("cx", (d) => x(d[0]))
    .attr("cy", (d) => y(d[1]))
    .attr("r", 3.8)
    .attr("fill", colorPunto);

  // banda de confianza y ajuste
  const filas = curvaX.map((v, i) => ({ x: v, f: p.ajuste[i], lo: p.inf[i], hi: p.sup[i] }));
  const area = d3.area()
    .x((d) => x(d.x)).y0((d) => y(d.lo)).y1((d) => y(d.hi))
    .curve(d3.curveMonotoneX);
  g.append("path")
    .datum(filas)
    .attr("d", area)
    .attr("fill", "#d8d8d8").attr("fill-opacity", 0.85)
    .attr("stroke", "#c8c8c8").attr("stroke-width", 0.8);

  const linea = d3.line()
    .x((d) => x(d.x)).y((d) => y(d.f))
    .curve(d3.curveMonotoneX);
  g.append("path")
    .datum(filas)
    .attr("d", linea)
    .attr("fill", "none").attr("stroke", "#f4f4f4").attr("stroke-width", 4.5);
  g.append("path")
    .datum(filas)
    .attr("d", linea)
    .attr("fill", "none").attr("stroke", colorAjuste).attr("stroke-width", 1.8);

  // ejes
  const ejeX = g.append("g")
    .attr("transform", "translate(0," + pb + ")")
    .call(d3.axisBottom(x).tickValues(ticksX).tickSize(5).tickSizeOuter(0).tickFormat(d3.format("d")));
  const ejeY = g.append("g")
    .attr("transform", "translate(" + pl + ",0)")
    .call(d3.axisLeft(y).tickValues(p.ticksY).tickSize(5).tickSizeOuter(0).tickFormat(d3.format("d")));

  [ejeX, ejeY].forEach((e) => {
    e.attr("font-family", null);
    e.select(".domain").remove();
    e.selectAll("line").attr("stroke", "#4a4a4a");
    e.selectAll("text").attr("font-size", 11.5).attr("fill", "#222");
  });
  ejeX.selectAll("text").attr("y", 8);
  ejeY.selectAll("text")
    .attr("transform", "rotate(-90)")
    .attr("text-anchor", "middle")
    .attr("x", 0).attr("y", -8).attr("dy", 0);

  g.append("line")
    .attr("x1", pl).attr("x2", pr).attr("y1", pb).attr("y2", pb)
    .attr("stroke", "#4a4a4a").attr("stroke-width", 1.2);
  g.append("line")
    .attr("x1", pl).attr("x2", pl).attr("y1", pt).attr("y2", pb)
    .attr("stroke", "#4a4a4a").attr("stroke-width", 1.2);

  g.append("text")
    .attr("x", (pl + pr) / 2).attr("y", pb + 28)
    .attr("text-anchor", "middle")
    .attr("font-size", 12).attr("fill", "#222")
    .text(etiquetaX);
  g.append("text")
    .attr("transform", "translate(" + (pl - 27) + "," + ((pt + pb) / 2) + ") rotate(-90)")
    .attr("text-anchor", "middle")
    .attr("font-size", 11.5).attr("fill", "#222")
    .text(p.ytit);
}
</script>
</body>
</html>
